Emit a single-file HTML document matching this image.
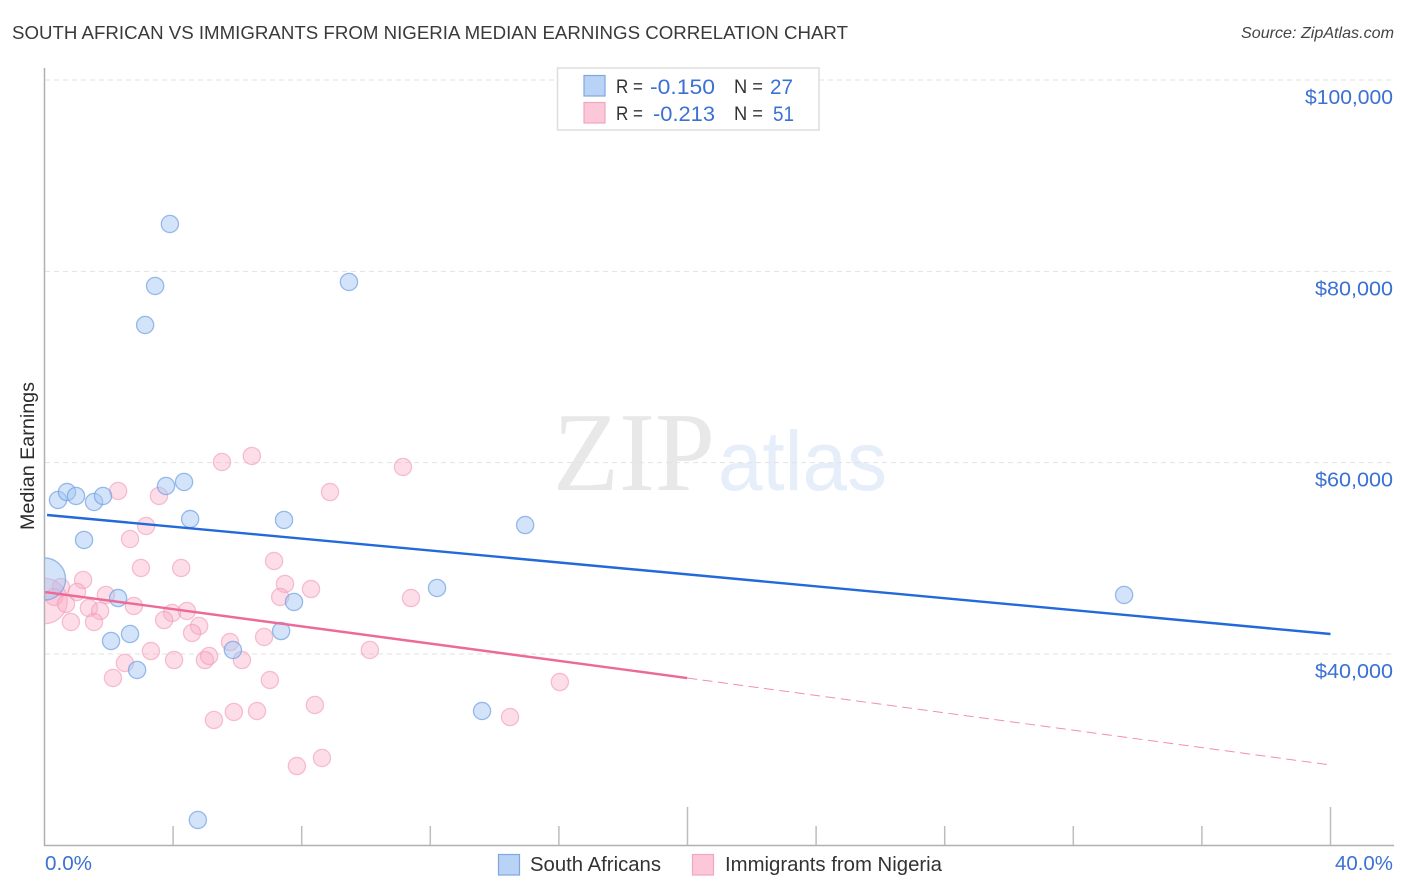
<!DOCTYPE html>
<html lang="en">
<head>
<meta charset="utf-8">
<title>South African vs Immigrants from Nigeria Median Earnings Correlation Chart</title>
<style>
html,body{margin:0;padding:0;background:#fff;}
svg{display:block;font-family:"Liberation Sans",sans-serif;}
</style>
</head>
<body>
<svg id="chart" xmlns="http://www.w3.org/2000/svg" width="1406" height="892" viewBox="0 0 1406 892">
  <defs><clipPath id="plot-clip"><rect x="45" y="68" width="1350" height="777"/></clipPath></defs>
  <text x="12" y="39" font-size="18.5" fill="#3a3a3a" textLength="836" lengthAdjust="spacingAndGlyphs">SOUTH AFRICAN VS IMMIGRANTS FROM NIGERIA MEDIAN EARNINGS CORRELATION CHART</text>
  <text x="1394" y="38" font-size="16" font-style="italic" fill="#444" text-anchor="end" textLength="153" lengthAdjust="spacingAndGlyphs">Source: ZipAtlas.com</text>
  <g>
    <text x="553" y="490" font-family="'Liberation Serif',serif" font-size="112" fill="#e8e8e8" textLength="162" lengthAdjust="spacingAndGlyphs">ZIP</text>
    <text x="718" y="490" font-size="84" fill="#e6eefa" textLength="169" lengthAdjust="spacingAndGlyphs">atlas</text>
  </g>
  <g id="grid"></g>
  <g id="axes"></g>
  <g id="pink-points" clip-path="url(#plot-clip)"></g>
  <g id="blue-points" clip-path="url(#plot-clip)"></g>
  <g id="trends"></g>
  <text transform="translate(34,456) rotate(-90)" font-size="19" fill="#2a2a2a" text-anchor="middle" textLength="148" lengthAdjust="spacingAndGlyphs">Median Earnings</text>
  <g>
    <rect x="557.5" y="68" width="261.5" height="62" fill="#fff" stroke="#dddddd" stroke-width="1.5"/>
    <rect x="584" y="75.5" width="21" height="20.5" fill="#b9d3f6" stroke="#7fa8e0" stroke-width="1.2"/>
    <rect x="584" y="102.5" width="21" height="20.5" fill="#fcc7d8" stroke="#f3a6bf" stroke-width="1.2"/>
    <text x="616" y="93" font-size="19" fill="#333" textLength="27" lengthAdjust="spacingAndGlyphs">R =</text>
    <text x="650" y="94" font-size="21.5" fill="#3b71d3" textLength="65" lengthAdjust="spacingAndGlyphs">-0.150</text>
    <text x="734" y="93" font-size="19" fill="#333" textLength="29" lengthAdjust="spacingAndGlyphs">N =</text>
    <text x="770" y="94" font-size="21.5" fill="#3b71d3" textLength="23" lengthAdjust="spacingAndGlyphs">27</text>
    <text x="616" y="120" font-size="19" fill="#333" textLength="27" lengthAdjust="spacingAndGlyphs">R =</text>
    <text x="653" y="121" font-size="21.5" fill="#3b71d3" textLength="62" lengthAdjust="spacingAndGlyphs">-0.213</text>
    <text x="734" y="120" font-size="19" fill="#333" textLength="29" lengthAdjust="spacingAndGlyphs">N =</text>
    <text x="773" y="121" font-size="21.5" fill="#3b71d3" textLength="21" lengthAdjust="spacingAndGlyphs">51</text>
  </g>
  <g>
    <rect x="498.5" y="854.5" width="21" height="20.5" fill="#b9d3f6" stroke="#7fa8e0" stroke-width="1.2"/>
    <text x="530" y="871" font-size="20" fill="#333" textLength="131" lengthAdjust="spacingAndGlyphs">South Africans</text>
    <rect x="692.5" y="854.5" width="21" height="20.5" fill="#fcc7d8" stroke="#f3a6bf" stroke-width="1.2"/>
    <text x="725" y="871" font-size="20" fill="#333" textLength="217" lengthAdjust="spacingAndGlyphs">Immigrants from Nigeria</text>
  </g>
</svg>
<script>
const blueX = [3.90,3.44,3.13,9.47,0.42,0.70,0.98,1.54,1.82,3.78,4.34,4.53,1.23,7.45,14.95,33.58,12.21,7.76,2.29,2.66,2.07,2.88,7.36,5.86,13.61,4.77,0.00];
const blueY = [84950,78470,74390,78890,56100,56930,56520,55890,56520,57560,57980,54110,51920,54010,53480,46170,46900,45440,45850,42090,41360,38330,42400,40420,34040,22650,47840];
const blueWeight = [1,1,1,1,1,1,1,1,1,1,1,1,1,1,1,1,1,1,1,1,1,1,1,1,1,1,6];
const pinkX = [2.29,3.56,5.52,6.45,8.88,11.15,3.16,2.66,3.00,4.25,7.14,7.48,8.29,7.33,1.20,0.51,1.01,0.30,0.00,0.67,1.91,1.38,1.73,2.78,0.82,1.54,3.97,4.43,3.72,4.81,4.59,3.31,2.50,2.13,4.03,4.99,5.12,5.77,6.14,6.83,7.01,10.12,11.40,16.03,14.48,8.41,6.61,5.89,5.27,7.85,8.63];
const pinkY = [57040,56520,60070,60700,56930,59550,53380,52020,48990,48990,49720,47320,46790,45960,47740,47000,46480,45960,45540,45230,46170,44810,44500,45020,43350,43350,44290,44500,43550,42930,42200,40310,39060,37490,39370,39370,39790,41250,39370,41780,37280,40420,45850,37070,33410,34670,34040,33940,33100,28290,29130];
const pinkWeight = [1,1,1,1,1,1,1,1,1,1,1,1,1,1,1,1,1,1,7,1,1,1,1,1,1,1,1,1,1,1,1,1,1,1,1,1,1,1,1,1,1,1,1,1,1,1,1,1,1,1,1];
const blueTrendX = [0.08,40];
const blueTrendY = [54530,42090];
const pinkTrendX = [0.02,19.99];
const pinkTrendY = [46480,37490];
const pinkForecastX = [19.99,40];
const pinkForecastY = [37490,28400];
const yTicks = [100000,80000,60000,40000];
const yTickLabels = ["$100,000","$80,000","$60,000","$40,000"];
const xTicks = [0,4,8,12,16,20,24,28,32,36,40];
const xMajorTicks = [20,40];
const xEndLabels = ["0.0%","40.0%"];

const NS = "http://www.w3.org/2000/svg";
function xScale(v){ return 44.5 + v * 32.15; }
function yScale(v){ return 654 - (v - 40000) * 191.33 / 20000; }
function make(tag, parent, attrs){
  const el = document.createElementNS(NS, tag);
  for (const k in attrs) el.setAttribute(k, attrs[k]);
  parent.appendChild(el);
  return el;
}

const grid = document.getElementById("grid");
yTicks.forEach(function(t, i){
  const line = make("line", grid, {x1:45, x2:1393, y1:yScale(t), y2:yScale(t), stroke:"#e2e2e2", "stroke-width":1, "stroke-dasharray":"5 4"});
  
  
  const label = make("text", grid, {x:1393, y:yScale(t)+24, "font-size":20, fill:"#3b71d3", "text-anchor":"end", textLength:yTickLabels[i].length > 7 ? 88 : 78, lengthAdjust:"spacingAndGlyphs"});
  label.textContent = yTickLabels[i];
  
  
});

const axes = document.getElementById("axes");
const yAxis = make("line", axes, {x1:44.5, x2:44.5, y1:68, y2:846, stroke:"#b0b0b0", "stroke-width":1.5});


const xAxis = make("line", axes, {x1:44, x2:1394, y1:845.5, y2:845.5, stroke:"#b0b0b0", "stroke-width":1.5});


xTicks.forEach(function(t){
  if (t === 0) return;
  const top = xMajorTicks.indexOf(t) >= 0 ? 807 : 826;
  const tick = make("line", axes, {x1:xScale(t), x2:xScale(t), y1:top, y2:845, stroke:"#bdbdbd", "stroke-width":1.5});
  
  
});
const x0 = make("text", axes, {x:45, y:870, "font-size":20, fill:"#3b71d3", textLength:47, lengthAdjust:"spacingAndGlyphs"});
x0.textContent = xEndLabels[0];


const x1 = make("text", axes, {x:1393, y:870, "font-size":20, fill:"#3b71d3", "text-anchor":"end", textLength:58, lengthAdjust:"spacingAndGlyphs"});
x1.textContent = xEndLabels[1];



const pinkLayer = document.getElementById("pink-points");
pinkX.forEach(function(x, i){
  const c = make("circle", pinkLayer, {cx:xScale(x), cy:yScale(pinkY[i]), r:8.6*Math.sqrt(pinkWeight[i]), fill:"#f9a8c2", "fill-opacity":0.38, stroke:"#f09ab6", "stroke-opacity":0.6, "stroke-width":1.3});
  
  
});
const blueLayer = document.getElementById("blue-points");
blueX.forEach(function(x, i){
  const c = make("circle", blueLayer, {cx:xScale(x), cy:yScale(blueY[i]), r:8.6*Math.sqrt(blueWeight[i]), fill:"#a4c6f4", "fill-opacity":0.48, stroke:"#6f9fe0", "stroke-opacity":0.7, "stroke-width":1.3});
  
  
});

const trends = document.getElementById("trends");
const blueTrend = make("line", trends, {x1:xScale(blueTrendX[0]), y1:yScale(blueTrendY[0]), x2:xScale(blueTrendX[1]), y2:yScale(blueTrendY[1]), stroke:"#2269d9", "stroke-width":2.4});


const pinkTrend = make("line", trends, {x1:xScale(pinkTrendX[0]), y1:yScale(pinkTrendY[0]), x2:xScale(pinkTrendX[1]), y2:yScale(pinkTrendY[1]), stroke:"#ec6a97", "stroke-width":2.4});


const pinkForecast = make("line", trends, {x1:xScale(pinkForecastX[0]), y1:yScale(pinkForecastY[0]), x2:xScale(pinkForecastX[1]), y2:yScale(pinkForecastY[1]), stroke:"#ec6a97", "stroke-opacity":0.75, "stroke-width":1, "stroke-dasharray":"10 5.5"});


</script>
</body>
</html>
